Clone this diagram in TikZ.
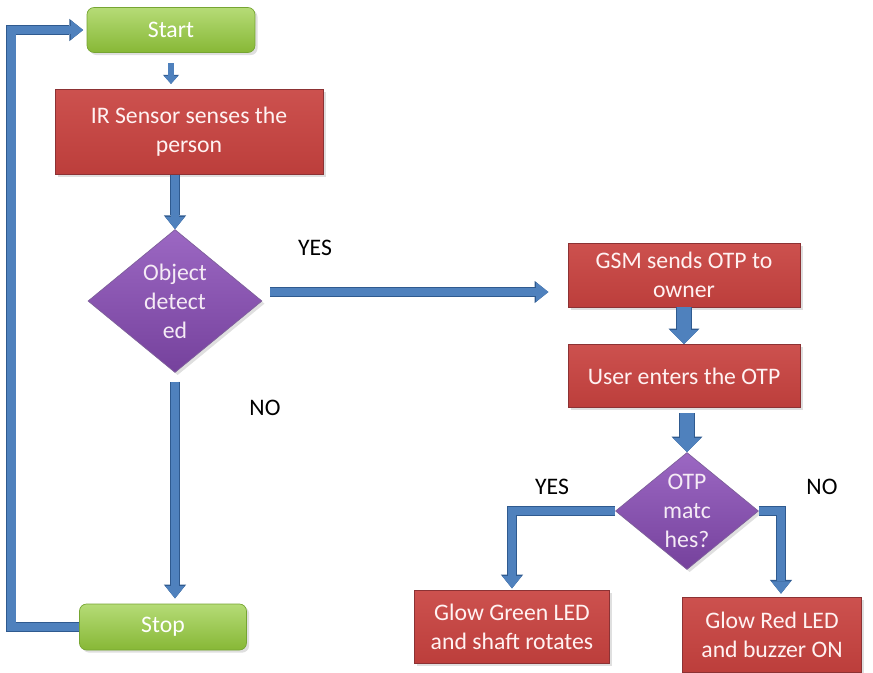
\documentclass[tikz,border=0pt]{standalone}
\usepackage{fontspec}
\setmainfont{Carlito}
\usepackage{tikz}
\usetikzlibrary{arrows.meta,positioning,shapes.geometric,shadows}
\definecolor{BoxRed}{HTML}{C8423F}
\definecolor{BoxRedDark}{HTML}{8C3234}
\definecolor{TermGreen}{HTML}{96CC3C}
\definecolor{TermGreenDark}{HTML}{76A532}
\definecolor{DecPurple}{HTML}{8A4DB8}
\definecolor{DecPurpleDark}{HTML}{5E3782}
\definecolor{FlowBlue}{HTML}{4F81BD}
\definecolor{FlowEdge}{HTML}{2F5A8F}

\begin{document}
\begin{tikzpicture}[x=0.02cm, y=-0.02cm,
  font=\fontsize{13.5}{16.5}\selectfont,
  term/.style={rounded corners=4pt, draw=TermGreenDark, thin,
               top color=TermGreen!70!white, bottom color=TermGreen!90!black,
               text=white, align=center,
               drop shadow={opacity=0.25, shadow xshift=1.5pt, shadow yshift=-1.5pt}},
  proc/.style={draw=BoxRedDark, thin,
               top color=BoxRed!92!white, bottom color=BoxRed!94!black,
               text=white!95!red, align=center,
               drop shadow={opacity=0.25, shadow xshift=1.5pt, shadow yshift=-1.5pt}},
  decide/.style={diamond, draw=DecPurpleDark!80, thin, inner sep=0pt, aspect=1.22,
                 top color=DecPurple!85!white, bottom color=DecPurple!85!black,
                 text=white!92!violet, align=center,
                 drop shadow={opacity=0.25, shadow xshift=1.5pt, shadow yshift=-1.5pt}},
  answer/.style={text=black},
  link/.style={line width=5pt, draw=FlowBlue,
               -{Triangle[length=7pt,width=11pt,line width=0pt]},
               preaction={draw=FlowEdge, line width=6pt,
                          -{Triangle[length=7.8pt,width=12.6pt,line width=0pt]}}},
  biglink/.style={line width=8.5pt, draw=FlowBlue,
               -{Triangle[length=8pt,width=16pt,line width=0pt]},
               preaction={draw=FlowEdge, line width=9.5pt,
                          -{Triangle[length=8.8pt,width=17.6pt,line width=0pt]}}},
  smalllink/.style={line width=3pt, draw=FlowBlue,
               -{Triangle[length=4.5pt,width=8pt,line width=0pt]},
               preaction={draw=FlowEdge, line width=3.8pt,
                          -{Triangle[length=5.2pt,width=9.2pt,line width=0pt]}}}
]
\useasboundingbox (0,0) rectangle (873,673);

% left column
\node[term, minimum width=3.36cm, minimum height=0.9cm] (start) at (171,30) {Start};
\node[proc, minimum width=5.36cm, minimum height=1.7cm] (sense) at (189,132)
  {IR Sensor senses the\\person};
\node[decide, minimum width=3.48cm, minimum height=2.86cm] (detect) at (175,301)
  {Object\\detect\\ed};
\node[term, minimum width=3.34cm, minimum height=0.92cm] (stop) at (163,627) {Stop};

% right column
\node[proc, minimum width=4.64cm, minimum height=1.28cm] (gsm) at (684,275)
  {GSM sends OTP to\\owner};
\node[proc, minimum width=4.64cm, minimum height=1.26cm] (user) at (684,376)
  {User enters the OTP};
\node[decide, minimum width=2.86cm, minimum height=2.34cm] (otp) at (687,511)
  {OTP\\matc\\hes?};
\node[proc, minimum width=3.9cm, minimum height=1.46cm] (green) at (512,627)
  {Glow Green LED\\and shaft rotates};
\node[proc, minimum width=3.58cm, minimum height=1.5cm] (red) at (772,635)
  {Glow Red LED\\and buzzer ON};

% branch labels
\node[answer] (yes1) at (315,248) {YES};
\node[answer] (no1) at (265,408) {NO};
\node[answer] (yes2) at (552,487) {YES};
\node[answer] (no2) at (822,487) {NO};

\coordinate (yesout) at (270,292);
\coordinate (gleft) at (512,511);
\coordinate (rright) at (781,511);

% connectors
\draw[smalllink, shorten <=6pt, shorten >=3pt] (start.south) -- (start.south |- sense.north);
\draw[link] (sense.south -| detect.north) -- (detect.north);
\draw[link, shorten >=11pt] (yesout) -- (yesout -| gsm.west);
\draw[link, shorten <=5pt, shorten >=3pt] (detect.south) -- (detect.south |- stop.north);
\draw[link, shorten >=2pt] (stop.west) -- ++(-68,0) |- (start.west);
\draw[biglink] (gsm.south) -- (user.north);
\draw[biglink, shorten <=3pt] (user.south -| otp.north) -- (otp.north);
\draw[link, shorten >=1pt] (otp.west) -- (gleft) -- (gleft |- green.north);
\draw[link, shorten >=2pt] (otp.east) -- (rright) -- (rright |- red.north);
\end{tikzpicture}
\end{document}
